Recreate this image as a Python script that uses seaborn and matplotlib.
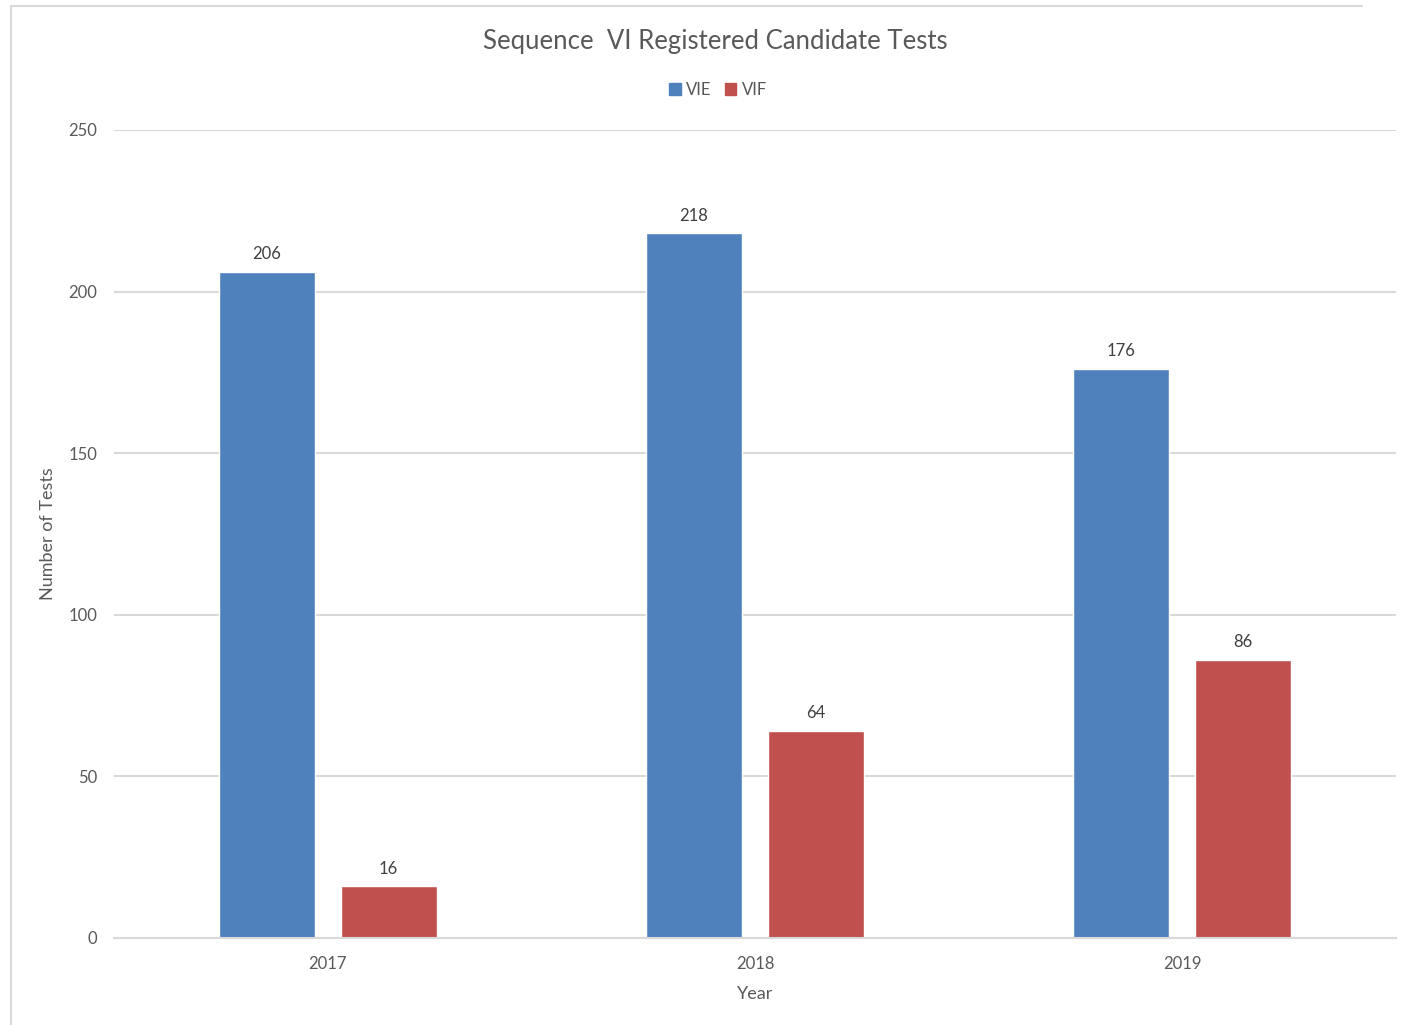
import pandas as pd
import numpy as np
import matplotlib.pyplot as plt
import seaborn as sns
from matplotlib.patches import Rectangle
from matplotlib.lines import Line2D

years = ["2017", "2018", "2019"]
vie = [206, 218, 176]
vif = [16, 64, 86]
series = ["VIE", "VIF"]
colors = {"VIE": "#4F81BD", "VIF": "#C0504D"}

df = pd.DataFrame({
    "Year": years * 2,
    "Tests": vie + vif,
    "Series": ["VIE"] * 3 + ["VIF"] * 3,
})

sns.set_style("white")
plt.rcParams["font.family"] = ["Lato", "DejaVu Sans"]

fig = plt.figure(figsize=(14.04, 10.25), dpi=100)
fig.patch.set_linewidth(0)
ax = fig.add_axes([0.0812, 0.0849, 0.9131, 0.7883])

sns.barplot(data=df, x="Year", y="Tests", hue="Series", hue_order=series,
            palette=colors, width=0.571, gap=0.213, saturation=1,
            errorbar=None, legend=False, ax=ax)

for c in ax.containers:
    ax.bar_label(c, padding=7, fontsize=12, color="#404040")

ax.set_xlim(-0.5, 2.5)
ax.set_ylim(0, 250)
ax.set_yticks(np.arange(0, 251, 50))
ax.yaxis.grid(True, color="#d9d9d9", linewidth=1.5)
ax.set_axisbelow(True)
for s in ["left", "right", "top"]:
    ax.spines[s].set_visible(False)
ax.spines["bottom"].set_color("#d9d9d9")
ax.spines["bottom"].set_linewidth(1.5)
ax.tick_params(length=0, labelsize=12, labelcolor="#595959")
ax.tick_params(axis="x", pad=13)
ax.tick_params(axis="y", pad=12)
ax.set_xlabel("Year", fontsize=13, color="#595959", labelpad=10)
ax.set_ylabel("Number of Tests", fontsize=13, color="#595959", labelpad=9)

fig.text(715 / 1404, 1 - 41 / 1025, "Sequence  VI Registered Candidate Tests",
         ha="center", va="center", fontsize=18.5, color="#595959")

handles = [Rectangle((0, 0), 1, 1, color=colors[s]) for s in series]
fig.legend(handles, series, loc="center", bbox_to_anchor=(718 / 1404, 1 - 90 / 1025),
           ncol=2, frameon=False, fontsize=12, handlelength=0.7, handleheight=0.7,
           handletextpad=0.3, columnspacing=0.8, labelcolor="#595959")

# chart frame: only left and top edges fall inside the picture
fx, fy = 11 / 1404, 1 - 6 / 1025
fig.lines.append(Line2D([fx, fx], [0, fy], transform=fig.transFigure,
                        color="#d9d9d9", linewidth=1.5))
fig.lines.append(Line2D([fx, 0.97], [fy, fy], transform=fig.transFigure,
                        color="#d9d9d9", linewidth=1.5))

fig.savefig("out.png", dpi=100)
